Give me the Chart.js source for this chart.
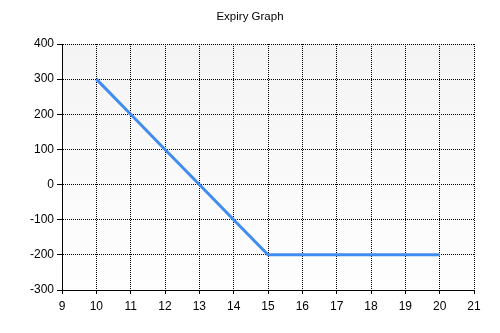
<!DOCTYPE html>
<html>
<head>
<meta charset="utf-8">
<script src="https://cdn.jsdelivr.net/npm/chart.js@4"></script>
<style>
html,body{margin:0;padding:0;background:#fff;}
#wrap{width:500px;height:333px;}
</style>
</head>
<body>
<div id="wrap"><canvas id="c" width="500" height="333"></canvas></div>
<script>
const titleText = "Expiry Graph";
const xValues = [10, 11, 12, 13, 14, 15, 16, 17, 18, 19, 20];
const yValues = [300, 200, 100, 0, -100, -200, -200, -200, -200, -200, -200];
const xTicks = [9, 10, 11, 12, 13, 14, 15, 16, 17, 18, 19, 20, 21];
const yTicks = [-300, -200, -100, 0, 100, 200, 300, 400];

const bgPlugin = {
  id: 'bg',
  beforeDraw(chart) {
    const {ctx, chartArea: a} = chart;
    ctx.save();
    ctx.fillStyle = '#ffffff';
    ctx.fillRect(0, 0, chart.width, chart.height);
    const g = ctx.createLinearGradient(0, a.top, 0, a.bottom);
    g.addColorStop(0, '#f4f4f4');
    g.addColorStop(1, '#fefefe');
    ctx.fillStyle = g;
    ctx.fillRect(a.left, a.top, a.right - a.left, a.bottom - a.top);
    ctx.restore();
  }
};

Chart.defaults.font.family = "'Liberation Sans', Arial, sans-serif";
Chart.defaults.color = '#000';

new Chart(document.getElementById('c'), {
  type: 'line',
  data: {
    datasets: [{
      data: xValues.map((x, i) => ({x: x, y: yValues[i]})),
      borderColor: 'rgb(65,140,240)',
      borderWidth: 3,
      pointRadius: 0,
      tension: 0,
      fill: false
    }]
  },
  options: {
    responsive: false,
    animation: false,
    layout: {padding: 0},
    plugins: {
      legend: {display: false},
      tooltip: {enabled: false},
      title: {
        display: true,
        text: titleText,
        color: '#000',
        font: {size: 11.5, weight: 'normal', lineHeight: 1.2},
        padding: {top: 10, bottom: 20.2}
      }
    },
    scales: {
      x: {
        type: 'linear',
        min: xTicks[0],
        max: xTicks[xTicks.length - 1],
        afterBuildTicks(s) { s.ticks = xTicks.map(v => ({value: v})); },
        afterFit(s) { s.height = 43; },
        ticks: {font: {size: 12}, color: '#000', padding: 5, maxRotation: 0, autoSkip: false},
        grid: {color: '#000', lineWidth: 1, tickLength: 4, tickColor: '#000'},
        border: {display: true, color: '#000', width: 1, dash: [1, 1]}
      },
      y: {
        type: 'linear',
        min: yTicks[0],
        max: yTicks[yTicks.length - 1],
        afterBuildTicks(s) { s.ticks = yTicks.map(v => ({value: v})); },
        afterFit(s) { s.width = 62; },
        ticks: {font: {size: 12}, color: '#000', padding: 3, autoSkip: false},
        grid: {color: '#000', lineWidth: 1, tickLength: 5, tickColor: '#000'},
        border: {display: true, color: '#000', width: 1, dash: [1, 1]}
      },
      yRight: {
        type: 'linear',
        position: 'right',
        display: true,
        min: yTicks[0],
        max: yTicks[yTicks.length - 1],
        afterFit(s) { s.width = 26; },
        ticks: {display: false},
        grid: {display: false, drawOnChartArea: false},
        border: {display: false}
      }
    }
  },
  plugins: [bgPlugin]
});
</script>
</body>
</html>
